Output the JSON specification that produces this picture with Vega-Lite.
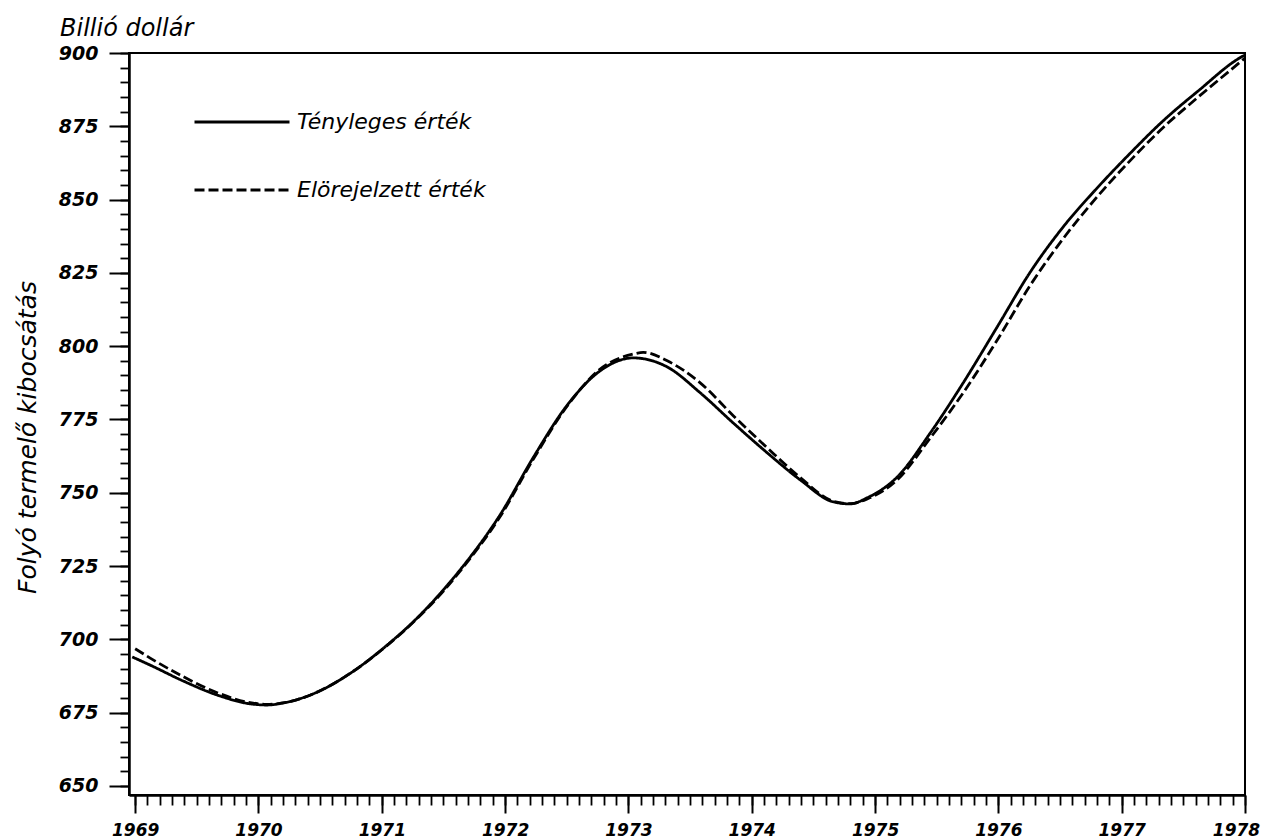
{
  "$schema": "https://vega.github.io/schema/vega-lite/v6.json",
  "width": 1116,
  "height": 742,
  "autosize": "none",
  "padding": {"left": 129, "top": 53, "right": 20, "bottom": 45},
  "background": "white",
  "config": {
    "view": {"stroke": "black", "strokeWidth": 2},
    "axis": {"domainColor": "black", "tickColor": "black", "labelColor": "black", "titleColor": "black", "grid": false}
  },
  "title": {
    "text": "Billió dollár",
    "anchor": "start",
    "frame": "group",
    "dx": -69,
    "offset": -16,
    "baseline": "alphabetic",
    "font": "DejaVu Sans",
    "fontSize": 24,
    "fontStyle": "italic",
    "fontWeight": "normal",
    "color": "black"
  },
  "data": {
    "values": [
      {"year": 1968.976, "value": 694.0, "series": "Tényleges érték"},
      {"year": 1969.122, "value": 691.2, "series": "Tényleges érték"},
      {"year": 1969.389, "value": 685.8, "series": "Tényleges érték"},
      {"year": 1969.665, "value": 681.0, "series": "Tényleges érték"},
      {"year": 1969.932, "value": 678.0, "series": "Tényleges érték"},
      {"year": 1970.07, "value": 677.6, "series": "Tényleges érték"},
      {"year": 1970.2, "value": 678.3, "series": "Tényleges érték"},
      {"year": 1970.476, "value": 682.0, "series": "Tényleges érték"},
      {"year": 1970.744, "value": 688.4, "series": "Tényleges érték"},
      {"year": 1971.011, "value": 696.9, "series": "Tényleges érték"},
      {"year": 1971.287, "value": 707.3, "series": "Tényleges érték"},
      {"year": 1971.498, "value": 716.8, "series": "Tényleges érték"},
      {"year": 1971.66, "value": 725.0, "series": "Tényleges érték"},
      {"year": 1971.96, "value": 742.5, "series": "Tényleges érték"},
      {"year": 1972.228, "value": 762.0, "series": "Tényleges érték"},
      {"year": 1972.504, "value": 779.9, "series": "Tényleges érték"},
      {"year": 1972.771, "value": 791.6, "series": "Tényleges érték"},
      {"year": 1973.039, "value": 796.0, "series": "Tényleges érték"},
      {"year": 1973.315, "value": 792.9, "series": "Tényleges érték"},
      {"year": 1973.582, "value": 784.1, "series": "Tényleges érték"},
      {"year": 1973.85, "value": 773.8, "series": "Tényleges érték"},
      {"year": 1974.126, "value": 763.6, "series": "Tényleges érték"},
      {"year": 1974.393, "value": 754.4, "series": "Tényleges érték"},
      {"year": 1974.661, "value": 746.9, "series": "Tényleges érték"},
      {"year": 1974.799, "value": 746.2, "series": "Tényleges érték"},
      {"year": 1974.937, "value": 748.3, "series": "Tényleges érték"},
      {"year": 1975.18, "value": 755.4, "series": "Tényleges érték"},
      {"year": 1975.448, "value": 770.4, "series": "Tényleges érték"},
      {"year": 1975.715, "value": 787.5, "series": "Tényleges érték"},
      {"year": 1975.991, "value": 806.6, "series": "Tényleges érték"},
      {"year": 1976.259, "value": 825.3, "series": "Tényleges érték"},
      {"year": 1976.526, "value": 840.7, "series": "Tényleges érték"},
      {"year": 1976.802, "value": 854.0, "series": "Tényleges érték"},
      {"year": 1977.069, "value": 865.8, "series": "Tényleges érték"},
      {"year": 1977.337, "value": 876.9, "series": "Tényleges érték"},
      {"year": 1977.613, "value": 886.8, "series": "Tényleges érték"},
      {"year": 1977.986, "value": 899.0, "series": "Tényleges érték"},
      {"year": 1978.0, "value": 899.3, "series": "Tényleges érték"},
      {"year": 1969.0, "value": 696.8, "series": "Elörejelzett érték"},
      {"year": 1969.122, "value": 693.6, "series": "Elörejelzett érték"},
      {"year": 1969.389, "value": 687.3, "series": "Elörejelzett érték"},
      {"year": 1969.665, "value": 681.8, "series": "Elörejelzett érték"},
      {"year": 1969.932, "value": 678.4, "series": "Elörejelzett érték"},
      {"year": 1970.07, "value": 677.8, "series": "Elörejelzett érték"},
      {"year": 1970.2, "value": 678.3, "series": "Elörejelzett érték"},
      {"year": 1970.476, "value": 682.0, "series": "Elörejelzett érték"},
      {"year": 1970.744, "value": 688.4, "series": "Elörejelzett érték"},
      {"year": 1971.011, "value": 696.8, "series": "Elörejelzett érték"},
      {"year": 1971.287, "value": 707.1, "series": "Elörejelzett érték"},
      {"year": 1971.498, "value": 716.4, "series": "Elörejelzett érték"},
      {"year": 1971.66, "value": 724.6, "series": "Elörejelzett érték"},
      {"year": 1971.96, "value": 741.9, "series": "Elörejelzett érték"},
      {"year": 1972.228, "value": 761.4, "series": "Elörejelzett érték"},
      {"year": 1972.504, "value": 779.6, "series": "Elörejelzett érték"},
      {"year": 1972.771, "value": 792.2, "series": "Elörejelzett érték"},
      {"year": 1973.039, "value": 797.3, "series": "Elörejelzett érték"},
      {"year": 1973.12, "value": 797.9, "series": "Elörejelzett érték"},
      {"year": 1973.315, "value": 795.0, "series": "Elörejelzett érték"},
      {"year": 1973.582, "value": 787.5, "series": "Elörejelzett érték"},
      {"year": 1973.85, "value": 776.3, "series": "Elörejelzett érték"},
      {"year": 1974.126, "value": 765.3, "series": "Elörejelzett érték"},
      {"year": 1974.393, "value": 755.2, "series": "Elörejelzett érték"},
      {"year": 1974.661, "value": 747.1, "series": "Elörejelzett érték"},
      {"year": 1974.799, "value": 746.3, "series": "Elörejelzett érték"},
      {"year": 1974.937, "value": 747.9, "series": "Elörejelzett érték"},
      {"year": 1975.18, "value": 754.4, "series": "Elörejelzett érték"},
      {"year": 1975.448, "value": 768.7, "series": "Elörejelzett érték"},
      {"year": 1975.715, "value": 784.1, "series": "Elörejelzett érték"},
      {"year": 1975.991, "value": 802.1, "series": "Elörejelzett érték"},
      {"year": 1976.259, "value": 820.8, "series": "Elörejelzett érték"},
      {"year": 1976.526, "value": 836.7, "series": "Elörejelzett érték"},
      {"year": 1976.802, "value": 851.0, "series": "Elörejelzett érték"},
      {"year": 1977.069, "value": 863.3, "series": "Elörejelzett érték"},
      {"year": 1977.337, "value": 874.6, "series": "Elörejelzett érték"},
      {"year": 1977.613, "value": 884.7, "series": "Elörejelzett érték"},
      {"year": 1977.986, "value": 897.8, "series": "Elörejelzett érték"},
      {"year": 1978.0, "value": 898.3, "series": "Elörejelzett érték"}
    ]
  },
  "layer": [
    {
      "mark": {"type": "line", "opacity": 0},
      "encoding": {
        "x": {
          "field": "year", "type": "quantitative",
          "scale": {"domain": [1968.95, 1978], "nice": false, "zero": false},
          "axis": {
            "orient": "bottom", "title": null, "labels": false,
            "values": [1969, 1969.1, 1969.2, 1969.3, 1969.4, 1969.5, 1969.6, 1969.7, 1969.8, 1969.9, 1970, 1970.1, 1970.2, 1970.3, 1970.4, 1970.5, 1970.6, 1970.7, 1970.8, 1970.9, 1971, 1971.1, 1971.2, 1971.3, 1971.4, 1971.5, 1971.6, 1971.7, 1971.8, 1971.9, 1972, 1972.1, 1972.2, 1972.3, 1972.4, 1972.5, 1972.6, 1972.7, 1972.8, 1972.9, 1973, 1973.1, 1973.2, 1973.3, 1973.4, 1973.5, 1973.6, 1973.7, 1973.8, 1973.9, 1974, 1974.1, 1974.2, 1974.3, 1974.4, 1974.5, 1974.6, 1974.7, 1974.8, 1974.9, 1975, 1975.1, 1975.2, 1975.3, 1975.4, 1975.5, 1975.6, 1975.7, 1975.8, 1975.9, 1976, 1976.1, 1976.2, 1976.3, 1976.4, 1976.5, 1976.6, 1976.7, 1976.8, 1976.9, 1977, 1977.1, 1977.2, 1977.3, 1977.4, 1977.5, 1977.6, 1977.7, 1977.8, 1977.9, 1978],
            "tickSize": 10, "tickWidth": 1.8, "domain": true, "domainWidth": 2.5
          }
        },
        "y": {
          "field": "value", "type": "quantitative",
          "scale": {"domain": [646.9, 900], "nice": false, "zero": false},
          "axis": {
            "orient": "left", "title": null, "labels": false,
            "values": [650, 655, 660, 665, 670, 675, 680, 685, 690, 695, 700, 705, 710, 715, 720, 725, 730, 735, 740, 745, 750, 755, 760, 765, 770, 775, 780, 785, 790, 795, 800, 805, 810, 815, 820, 825, 830, 835, 840, 845, 850, 855, 860, 865, 870, 875, 880, 885, 890, 895, 900],
            "tickSize": 9, "tickWidth": 1.8, "domain": true, "domainWidth": 2.5
          }
        },
        "detail": {"field": "series"}
      }
    },
    {
      "mark": {"type": "line", "interpolate": "monotone", "color": "black", "strokeWidth": 2.8},
      "encoding": {
        "x": {
          "field": "year", "type": "quantitative",
          "scale": {"domain": [1968.95, 1978], "nice": false, "zero": false},
          "axis": {
            "orient": "bottom", "title": null, "format": "d",
            "values": [1969, 1970, 1971, 1972, 1973, 1974, 1975, 1976, 1977, 1978],
            "tickSize": 18, "tickWidth": 2, "domain": false,
            "labelPadding": 9, "labelFont": "DejaVu Sans", "labelFontSize": 17,
            "labelFontStyle": "italic", "labelFontWeight": "bold",
            "labelOffset": {"condition": {"test": "datum.value == 1978", "value": -9}, "value": 0},
            "labelFlush": false, "labelOverlap": false, "labelBound": false
          }
        },
        "y": {
          "field": "value", "type": "quantitative",
          "scale": {"domain": [646.9, 900], "nice": false, "zero": false},
          "axis": {
            "orient": "left", "format": "d",
            "values": [650, 675, 700, 725, 750, 775, 800, 825, 850, 875, 900],
            "tickSize": 20, "tickWidth": 2, "domain": false,
            "labelPadding": 11, "labelFont": "DejaVu Sans", "labelFontSize": 19,
            "labelFontStyle": "italic", "labelFontWeight": "bold",
            "labelFlush": false, "labelOverlap": false, "labelBound": false,
            "title": "Folyó termelő kibocsátás",
            "titleFont": "DejaVu Sans", "titleFontSize": 25, "titleFontStyle": "italic",
            "titleFontWeight": "normal", "titleAngle": -90, "titleX": -102, "titleY": 384,
            "titleAlign": "center", "titleBaseline": "middle"
          }
        },
        "strokeDash": {
          "field": "series", "type": "nominal",
          "scale": {"domain": ["Tényleges érték", "Elörejelzett érték"], "range": [[1, 0], [10, 4]]},
          "legend": {
            "orient": "none", "legendX": 64, "legendY": 54, "title": null,
            "symbolType": "stroke", "symbolSize": 9025, "symbolStrokeWidth": 2.8,
            "symbolStrokeColor": "black", "clipHeight": 30, "rowPadding": 38,
            "labelOffset": 6, "padding": 0,
            "labelFont": "DejaVu Sans", "labelFontSize": 22, "labelFontStyle": "italic",
            "labelColor": "black", "labelLimit": 400
          }
        }
      }
    }
  ],
  "resolve": {"axis": {"x": "independent", "y": "independent"}}
}
